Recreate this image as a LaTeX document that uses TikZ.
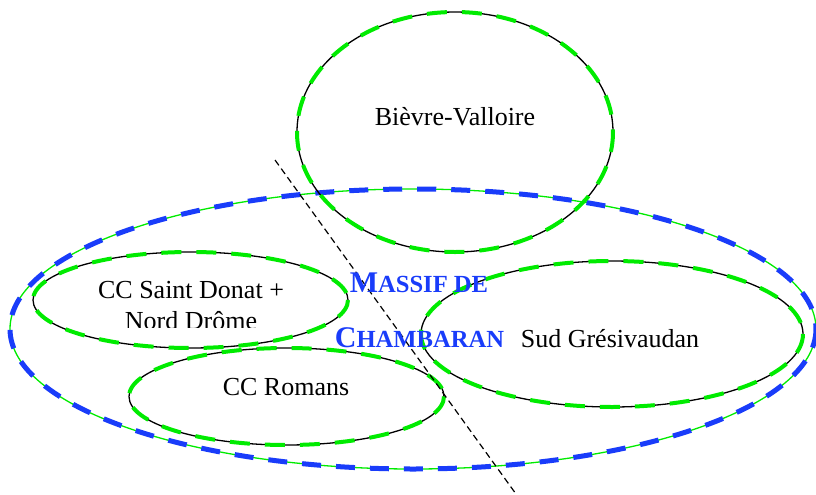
\documentclass[tikz,border=0pt]{standalone}
\usepackage{fontspec}
\setmainfont{Liberation Serif}
\definecolor{lime}{RGB}{0,235,0}
\definecolor{mblue}{RGB}{25,60,250}
\begin{document}
\begin{tikzpicture}[x=0.5pt,y=-0.5pt,
  area/.style={draw=black, line width=0.65pt,
    postaction={draw=lime, line width=2pt, dash pattern=on 10pt off 7.5pt}},
  region/.style={draw=lime, line width=0.65pt,
    postaction={draw=mblue, line width=2.5pt, dash pattern=on 9.5pt off 7.5pt}},
  sepline/.style={draw=black, line width=0.6pt, dash pattern=on 3.3pt off 2pt},
  lbl/.style={font=\fontsize{13}{15}\selectfont, inner sep=0pt, anchor=base},
  title/.style={text=mblue, font=\bfseries, inner sep=0pt, anchor=base}]
\useasboundingbox (0,0) rectangle (816,494);
% outer region
\draw[region] (413,329) ellipse [x radius=403, y radius=140];
% sub areas
\draw[area] (455,132) ellipse [x radius=158, y radius=120];
\draw[area] (190.5,300) ellipse [x radius=157.5, y radius=48];
\draw[area] (286.5,396.5) ellipse [x radius=157.5, y radius=48.5];
\draw[area] (612,334) ellipse [x radius=191, y radius=73];
% separating line
\coordinate (la) at (275,160);
\coordinate (lb) at (516,494);
\draw[sepline] (la) -- (lb);
% labels
\node[lbl] (bv) at (455,125.5) {Bièvre-Valloire};
\begin{scope}
  \clip (0,0) rectangle (816,327);
  \node[lbl] (sd1) at (191,298) {CC Saint Donat +};
  \node[lbl] (sd2) at (191,329.5) {Nord Drôme};
\end{scope}
\node[lbl] (rom) at (286,395) {CC Romans};
\node[lbl] (sg) at (610,347) {Sud Grésivaudan};
\node[title] (m1) at (419,292) {\fontsize{15}{17}\selectfont M\fontsize{12.3}{14}\selectfont ASSIF DE};
\node[title] (m2) at (419.5,347.3) {\fontsize{15}{17}\selectfont C\fontsize{12.3}{14}\selectfont HAMBARAN};
\end{tikzpicture}
\end{document}
